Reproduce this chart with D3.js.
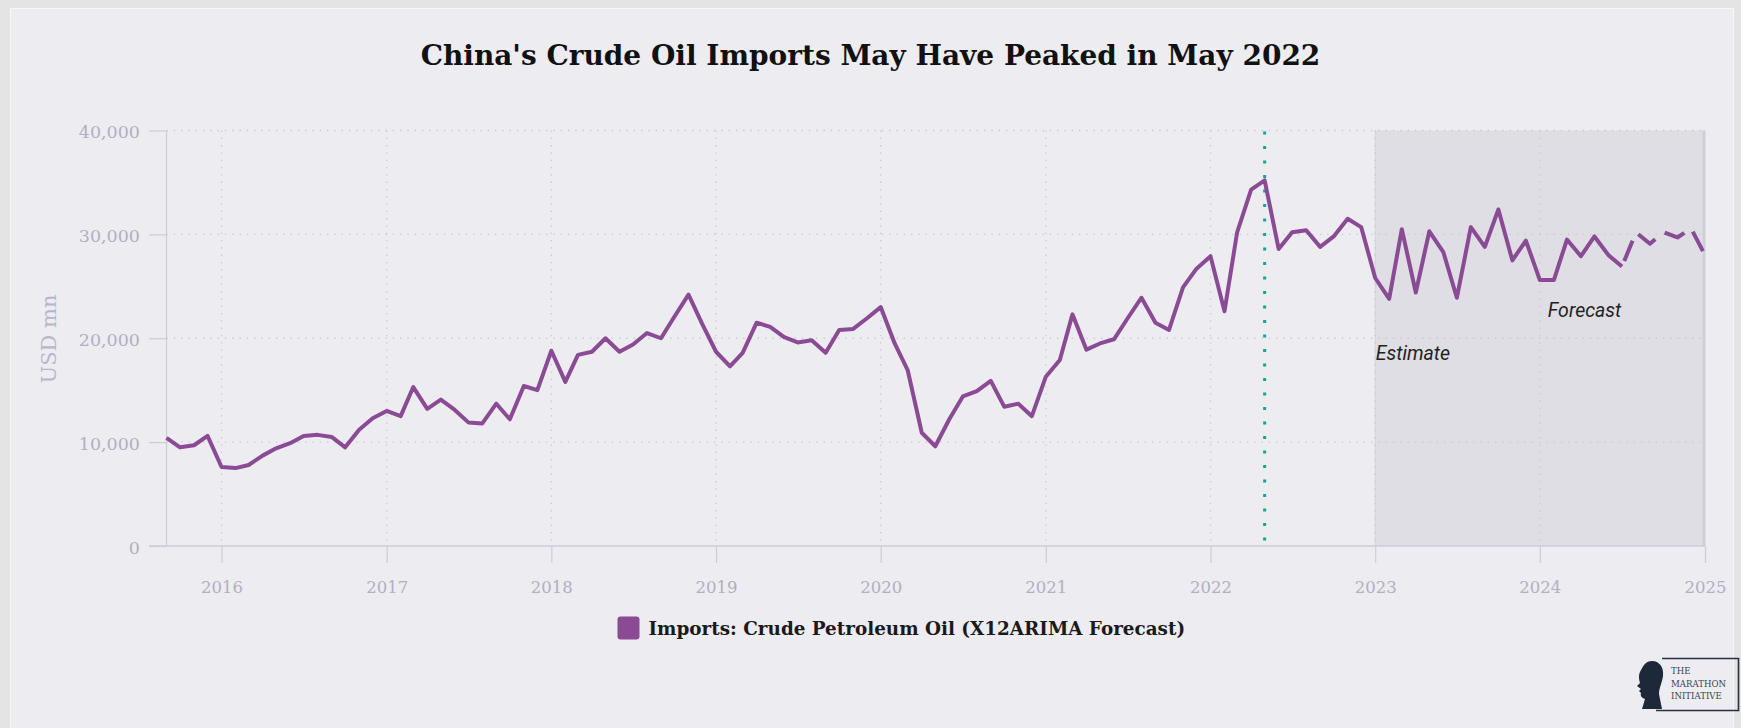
<!DOCTYPE html>
<html>
<head>
<meta charset="utf-8">
<script src="https://cdn.jsdelivr.net/npm/d3@7"></script>
<style>
  html, body { margin: 0; padding: 0; background: #e4e4e4; }
  svg { display: block; }
</style>
</head>
<body>
<svg id="chart" width="1741" height="728"></svg>
<script>
// Monthly crude petroleum oil imports, USD mn (first month: Sep 2015)
const firstMonth = "2015-09";
const v2015 = [10400, 9500, 9700, 10600];
const v2016 = [7600, 7500, 7800, 8700, 9400, 9900, 10600, 10700, 10500, 9500, 11200, 12300];
const v2017 = [13000, 12500, 15300, 13200, 14100, 13100, 11900, 11800, 13700, 12200, 15400, 15000];
const v2018 = [18800, 15800, 18400, 18700, 20000, 18700, 19400, 20500, 20000, 22100, 24200, 21400];
const v2019 = [18700, 17300, 18600, 21500, 21100, 20100, 19600, 19800, 18600, 20800, 20900, 21900];
const v2020 = [23000, 19500, 16900, 10900, 9600, 12200, 14400, 14900, 15900, 13400, 13700, 12500];
const v2021 = [16300, 17900, 22300, 18900, 19500, 19900, 21900, 23900, 21500, 20800, 24900, 26700];
const v2022 = [27900, 22600, 30200, 34300, 35200, 28600, 30200, 30400, 28800, 29800, 31500, 30700];
const v2023 = [25800, 23800, 30500, 24400, 30300, 28300, 23900, 30700, 28800, 32400, 27500, 29400];
const v2024 = [25600, 25600, 29500, 27900, 29800, 28000, 26900];

// X12ARIMA forecast tail (first month: Jul 2024)
const forecastFirstMonth = "2024-07";
const forecastValues = [26900, 30200, 29100, 30200, 29700, 30600, 28000];

// Axes
const yTicks = [0, 10000, 20000, 30000, 40000];
const yearTicks = ["2016", "2017", "2018", "2019", "2020", "2021", "2022", "2023", "2024", "2025"];
const xDomain = ["2015-09", "2025-01"];
const estimateStart = "2023-01";
const peakMonth = "2022-05";

const titleText = "China's Crude Oil Imports May Have Peaked in May 2022";
const legendText = "Imports: Crude Petroleum Oil (X12ARIMA Forecast)";
const yTitle = "USD mn";

// ---------------------------------------------------------------
const parseMonth = d3.utcParse("%Y-%m");
const parseYear = d3.utcParse("%Y");

const actualValues = [].concat(v2015, v2016, v2017, v2018, v2019, v2020, v2021, v2022, v2023, v2024);
const actual = actualValues.map((v, i) => ({ date: d3.utcMonth.offset(parseMonth(firstMonth), i), value: v }));
const forecast = forecastValues.map((v, i) => ({ date: d3.utcMonth.offset(parseMonth(forecastFirstMonth), i), value: v }));

const plot = { left: 166.5, right: 1705, top: 130.5, bottom: 546 };

const x = d3.scaleUtc().domain(xDomain.map(parseMonth)).range([plot.left, plot.right]);
const y = d3.scaleLinear().domain([0, 40000]).range([plot.bottom, plot.top]);

const svg = d3.select("#chart");

const axisGrey = "#cdccd8";
const labelGrey = "#b1afc3";
const lineColor = "#8a4b94";
const serif = "'DejaVu Serif', 'Liberation Serif', serif";

function fitWidth(sel, target) {
  const w = sel.node().getComputedTextLength();
  const fs = parseFloat(sel.attr("font-size"));
  sel.attr("font-size", (fs * target / w).toFixed(2));
}

// card background
svg.append("rect").attr("x", 0).attr("y", 0).attr("width", 1741).attr("height", 728).attr("fill", "#e4e4e4");
svg.append("rect").attr("x", 10).attr("y", 8).attr("width", 1724).attr("height", 730).attr("fill", "#f6f6f8");
svg.append("rect").attr("x", 11).attr("y", 9).attr("width", 1722).attr("height", 730).attr("fill", "#edecf1");

// title
const title = svg.append("text")
  .attr("x", 870.5).attr("y", 65)
  .attr("text-anchor", "middle")
  .attr("font-family", serif).attr("font-weight", "bold")
  .attr("font-size", 26).attr("fill", "#111")
  .text(titleText);
fitWidth(title, 900);

// estimate / forecast band
const band = svg.append("g");
band.append("rect")
  .attr("x", x(parseMonth(estimateStart))).attr("y", plot.top)
  .attr("width", x.range()[1] - x(parseMonth(estimateStart)))
  .attr("height", plot.bottom - plot.top)
  .attr("fill", "#dfdee4");
band.append("line")
  .attr("x1", x(parseMonth(estimateStart))).attr("x2", x(parseMonth(estimateStart)))
  .attr("y1", plot.top).attr("y2", plot.bottom)
  .attr("stroke", "#d3d2da").attr("stroke-width", 1);
band.append("line")
  .attr("x1", plot.right - 1).attr("x2", plot.right - 1)
  .attr("y1", plot.top).attr("y2", plot.bottom)
  .attr("stroke", "#d0cfd8").attr("stroke-width", 3);

// gridlines
const grid = svg.append("g")
  .attr("stroke", "#c9c8d3").attr("stroke-width", 1.3).attr("stroke-dasharray", "1.3,6");
grid.selectAll(".hg").data(yTicks.filter(d => d > 0)).join("line")
  .attr("x1", plot.left).attr("x2", plot.right)
  .attr("y1", d => y(d)).attr("y2", d => y(d));
grid.selectAll(".vg").data(yearTicks.slice(0, -1)).join("line")
  .attr("x1", d => x(parseYear(d))).attr("x2", d => x(parseYear(d)))
  .attr("y1", plot.top).attr("y2", plot.bottom);

// y axis
const yAxis = svg.append("g")
  .attr("transform", `translate(${plot.left},0)`)
  .call(d3.axisLeft(y).tickValues(yTicks).tickSize(17.5).tickPadding(9).tickFormat(d3.format(",")));
yAxis.select(".domain").remove();
yAxis.selectAll(".tick line").attr("stroke", axisGrey).attr("stroke-width", 1.2);
yAxis.selectAll(".tick text").attr("fill", labelGrey).attr("font-family", serif)
  .attr("font-size", 17.5).attr("dy", "0.4em");
svg.append("line")
  .attr("x1", plot.left).attr("x2", plot.left).attr("y1", plot.top).attr("y2", plot.bottom)
  .attr("stroke", axisGrey).attr("stroke-width", 1.2);

// x axis
const xAxis = svg.append("g")
  .attr("transform", `translate(0,${plot.bottom})`)
  .call(d3.axisBottom(x).tickValues(yearTicks.map(parseYear)).tickSize(17).tickFormat(d3.utcFormat("%Y")));
xAxis.select(".domain").remove();
xAxis.selectAll(".tick line").attr("stroke", axisGrey).attr("stroke-width", 1.2);
xAxis.selectAll(".tick text").attr("fill", labelGrey).attr("font-family", serif)
  .attr("font-size", 16.5).attr("y", 41.5).attr("dy", "0.35em");
svg.append("line")
  .attr("x1", plot.left - 17.5).attr("x2", plot.right).attr("y1", plot.bottom).attr("y2", plot.bottom)
  .attr("stroke", axisGrey).attr("stroke-width", 1.6);

// y axis title
svg.append("text")
  .attr("transform", "translate(48.5,339) rotate(-90)")
  .attr("text-anchor", "middle").attr("dy", "0.35em")
  .attr("font-family", serif).attr("font-size", 21).attr("fill", "#b8b6ca")
  .text(yTitle);

// peak marker
svg.append("line")
  .attr("x1", x(parseMonth(peakMonth))).attr("x2", x(parseMonth(peakMonth)))
  .attr("y1", 131.5).attr("y2", 541)
  .attr("stroke", "#1c9f9c").attr("stroke-width", 3).attr("stroke-dasharray", "3,11.5");

// series
const line = d3.line().x(d => x(d.date)).y(d => y(d.value));
svg.append("path").datum(actual)
  .attr("d", line).attr("fill", "none")
  .attr("stroke", lineColor).attr("stroke-width", 4)
  .attr("stroke-linejoin", "round").attr("stroke-linecap", "butt");
svg.append("path").datum(forecast)
  .attr("d", line).attr("fill", "none")
  .attr("stroke", lineColor).attr("stroke-width", 4)
  .attr("stroke-linejoin", "round")
  .attr("stroke-dasharray", "22,12").attr("stroke-dashoffset", 28);

// annotations
svg.append("text")
  .attr("x", x(parseMonth(estimateStart)) + 0.5).attr("y", 360)
  .attr("font-family", "Roboto, sans-serif").attr("font-style", "italic")
  .attr("font-size", 19.5).attr("fill", "#222")
  .text("Estimate");
svg.append("text")
  .attr("x", x(parseYear("2024")) + 8).attr("y", 317)
  .attr("font-family", "Roboto, sans-serif").attr("font-style", "italic")
  .attr("font-size", 19.5).attr("fill", "#222")
  .text("Forecast");

// legend
const legend = svg.append("g");
legend.append("rect")
  .attr("x", 617.5).attr("y", 616.5).attr("width", 22).attr("height", 23).attr("rx", 3)
  .attr("fill", lineColor);
const legendLabel = legend.append("text")
  .attr("x", 648.5).attr("y", 635)
  .attr("font-family", serif).attr("font-weight", "bold")
  .attr("font-size", 16).attr("fill", "#1a1a1a")
  .text(legendText);
fitWidth(legendLabel, 537);

// logo
const logo = svg.append("g");
logo.append("path")
  .attr("d", "M1662,658.5 H1738.5 V710.5 H1656")
  .attr("fill", "none").attr("stroke", "#26303e").attr("stroke-width", 1.6);
logo.append("path")
  .attr("transform", "translate(1635,661)")
  .attr("d", "M17,0 C25,0 29,7 28,15 C27,22 24,27 24,33 L27,48 L7,48 L10,38 C7,37 5,35 6,32 L4,30 L6,28 L2,25 L5,22 C4,18 3,14 6,9 C9,3 12,0 17,0 Z")
  .attr("fill", "#1d2938");
const logoText = logo.append("g")
  .attr("font-family", serif).attr("font-size", 8.6).attr("fill", "#3a4352");
logoText.append("text").attr("x", 1671).attr("y", 674).text("THE");
logoText.append("text").attr("x", 1671).attr("y", 686.5).text("MARATHON");
logoText.append("text").attr("x", 1671).attr("y", 699).text("INITIATIVE");
</script>
</body>
</html>
